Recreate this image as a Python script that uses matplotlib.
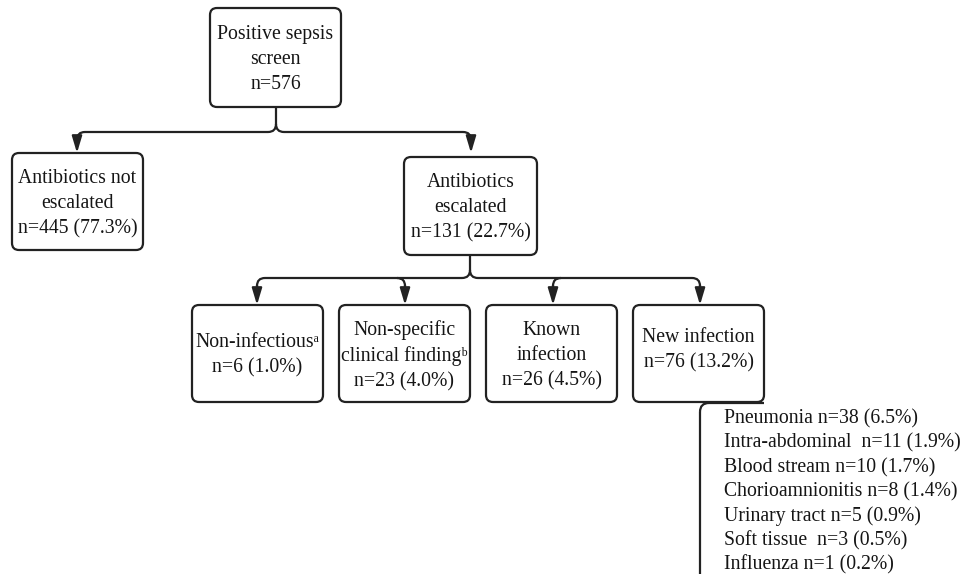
import matplotlib
matplotlib.use('Agg')
import matplotlib.pyplot as plt
from matplotlib.patches import FancyBboxPatch, PathPatch
from matplotlib.path import Path

plt.rcParams['font.family'] = ['Liberation Serif', 'DejaVu Serif']

# flowchart content
top_text = 'Positive sepsis\nscreen\nn=576'
level2_texts = ['Antibiotics not\nescalated\nn=445 (77.3%)',
                'Antibiotics\nescalated\nn=131 (22.7%)']
level3_texts = ['Non-infectious\u1d43\nn=6 (1.0%)',
                'Non-specific\nclinical finding\u1d47\nn=23 (4.0%)',
                'Known\ninfection\nn=26 (4.5%)',
                'New infection\nn=76 (13.2%)']
infection_types = ['Pneumonia n=38 (6.5%)',
                   'Intra-abdominal  n=11 (1.9%)',
                   'Blood stream n=10 (1.7%)',
                   'Chorioamnionitis n=8 (1.4%)',
                   'Urinary tract n=5 (0.9%)',
                   'Soft tissue  n=3 (0.5%)',
                   'Influenza n=1 (0.2%)']

LC = '#222222'
FS = 14.2

fig = plt.figure(figsize=(9.64, 5.74), dpi=100)
ax = fig.add_axes([0, 0, 1, 1])
ax.set_xlim(0, 964)
ax.set_ylim(574, 0)
ax.axis('off')


def box(x0, y0, x1, y1, text, fs=FS, va_off=0):
    p = FancyBboxPatch((x0, y0), x1 - x0, y1 - y0,
                       boxstyle='round,pad=0,rounding_size=7',
                       fc='white', ec=LC, lw=1.6)
    ax.add_patch(p)
    ax.text((x0 + x1) / 2, (y0 + y1) / 2 + 2 + va_off, text, ha='center', va='center',
            fontsize=fs, linespacing=1.42, color='#151515')


def brace(px, y0, yb, xs, ytip, r=8):
    verts, codes = [], []
    # stem from parent, splitting left and right
    verts += [(px, y0), (px, yb - r)]
    codes += [Path.MOVETO, Path.LINETO]
    xl, xr = min(xs), max(xs)
    verts += [(px, yb), (px - r, yb), (xl + r, yb), (xl, yb), (xl, yb + r)]
    codes += [Path.CURVE3, Path.CURVE3, Path.LINETO, Path.CURVE3, Path.CURVE3]
    verts += [(px, yb - r), (px, yb), (px + r, yb), (xr - r, yb), (xr, yb), (xr, yb + r)]
    codes += [Path.MOVETO, Path.CURVE3, Path.CURVE3, Path.LINETO, Path.CURVE3, Path.CURVE3]
    for xc in xs:
        if xc in (xl, xr):
            continue
        side = -1 if xc < px else 1
        verts += [(xc + side * r, yb), (xc, yb), (xc, yb + r)]
        codes += [Path.MOVETO, Path.CURVE3, Path.CURVE3]
    ax.add_patch(PathPatch(Path(verts, codes), fc='none', ec=LC, lw=1.6))
    for xc in xs:
        ax.annotate('', xy=(xc, ytip), xytext=(xc, yb + r - 1),
                    arrowprops=dict(arrowstyle='-|>,head_length=1.0,head_width=0.3',
                                    color=LC, lw=1.6, shrinkA=0, shrinkB=0))


# level 1
box(210, 8, 341, 107, top_text)
brace(276, 107, 132, [77, 471], 153)

# level 2
box(12, 153, 143, 250, level2_texts[0])
box(404, 157, 537, 255, level2_texts[1])
brace(470, 255, 278, [257, 405, 553, 700], 305)

# level 3
l3_x = [(192, 323), (339, 470), (486, 617), (633, 764)]
for (x0, x1), t in zip(l3_x, level3_texts):
    box(x0, 305, x1, 402, t, va_off=-5 if t.startswith('New') else 0)

# list of new infection types
ax.plot([700, 700], [412, 574], color=LC, lw=1.6, solid_capstyle='butt')
ax.add_patch(PathPatch(Path([(700, 412), (700, 403), (709, 403), (764, 403)],
                            [Path.MOVETO, Path.CURVE3, Path.CURVE3, Path.LINETO]),
                       fc='none', ec=LC, lw=1.6))
for i, t in enumerate(infection_types):
    ax.text(724, 419 + i * 24.3, t, ha='left', va='center', fontsize=FS, color='#151515')

fig.savefig('out.png', dpi=100)
